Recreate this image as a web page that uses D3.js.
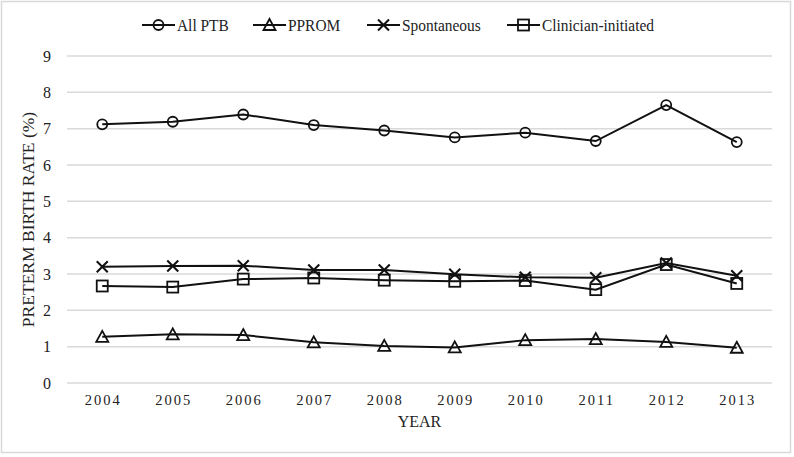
<!DOCTYPE html>
<html><head><meta charset="utf-8">
<script src="https://cdn.jsdelivr.net/npm/d3@7"></script>
<style>body{margin:0;background:#fff}svg{display:block}svg text{font-family:"Times New Roman","Liberation Serif",serif !important;fill:#222}</style>
</head><body><svg id="c" width="794" height="457" font-family="Times New Roman"></svg>
<script>
const years = ["2004","2005","2006","2007","2008","2009","2010","2011","2012","2013"];
const allPTB = [7.12,7.19,7.39,7.10,6.95,6.76,6.89,6.66,7.65,6.63];
const pprom = [1.27,1.34,1.32,1.12,1.02,0.98,1.18,1.21,1.13,0.97];
const spontaneous = [3.20,3.22,3.23,3.11,3.11,2.99,2.91,2.90,3.30,2.95];
const clinician = [2.67,2.64,2.86,2.89,2.83,2.80,2.82,2.57,3.26,2.74];
const seriesNames = ["All PTB","PPROM","Spontaneous","Clinician-initiated"];
const markers = ["circle","triangle","cross","square"];
const yTicks = [0,1,2,3,4,5,6,7,8,9];

const svg = d3.select("#c");
svg.append("rect").attr("x",1.5).attr("y",1.5).attr("width",789).attr("height",451)
  .attr("fill","#fff").attr("stroke","#d9d9d9").attr("stroke-width",1.5);

const L=67,R=772,T=56,B=383;
const x = d3.scaleBand().domain(years).range([L,R]);
const xc = d => x(d)+x.bandwidth()/2;
const y = d3.scaleLinear().domain([0,9]).range([B,T]);

// grid
svg.append("g").selectAll("line").data(yTicks).join("line")
  .attr("x1",L).attr("x2",R).attr("y1",d=>y(d)).attr("y2",d=>y(d))
  .attr("stroke","#d9d9d9").attr("stroke-width",1.5);

// y axis labels
const ya = svg.append("g").attr("transform",`translate(${L-13},0)`)
  .call(d3.axisLeft(y).tickValues(yTicks).tickSize(0).tickFormat(d3.format("d")));
ya.select(".domain").remove();
ya.attr("font-family","Times New Roman");
ya.selectAll("text").attr("font-size",16).attr("fill","#222");

// x axis labels
const xa = svg.append("g").attr("transform",`translate(1,${B+9})`)
  .call(d3.axisBottom(x).tickSize(0));
xa.select(".domain").remove();
xa.attr("font-family","Times New Roman");
xa.selectAll("text").attr("font-size",14.5).attr("fill","#222")
  .attr("letter-spacing","2px").attr("dy","0.71em");

svg.append("text").attr("x",(L+R)/2).attr("y",427).attr("text-anchor","middle")
  .attr("font-size",16).text("YEAR");
svg.append("text").attr("transform",`translate(34,${(T+B)/2}) rotate(-90)`).attr("text-anchor","middle")
  .attr("font-size",17.5).text("PRETERM BIRTH RATE (%)");

const data = [allPTB,pprom,spontaneous,clinician];
const line = d3.line().x((d,i)=>xc(years[i])).y(d=>y(d));

function drawMarker(g,type,cx,cy){
  const s = "#111", w=1.8;
  if(type==="circle") g.append("circle").attr("cx",cx).attr("cy",cy).attr("r",5).attr("fill","none").attr("stroke",s).attr("stroke-width",w);
  else if(type==="square") g.append("rect").attr("x",cx-5.5).attr("y",cy-5.5).attr("width",11).attr("height",11).attr("fill","none").attr("stroke",s).attr("stroke-width",w);
  else if(type==="triangle") g.append("path").attr("d",`M${cx},${cy-6}L${cx+6},${cy+5}L${cx-6},${cy+5}Z`).attr("fill","none").attr("stroke",s).attr("stroke-width",w);
  else if(type==="cross") g.append("path").attr("d",`M${cx-5.5},${cy-5.5}L${cx+5.5},${cy+5.5}M${cx-5.5},${cy+5.5}L${cx+5.5},${cy-5.5}`).attr("fill","none").attr("stroke",s).attr("stroke-width",w+0.3);
}

data.forEach((vals,k)=>{
  const g = svg.append("g");
  g.append("path").attr("d",line(vals)).attr("fill","none").attr("stroke","#111").attr("stroke-width",2);
  vals.forEach((v,i)=>drawMarker(g,markers[k],xc(years[i]),y(v)));
});

// legend
const legX = [142,253,367,507];
const ly = 25;
seriesNames.forEach((n,k)=>{
  const g = svg.append("g");
  g.append("line").attr("x1",legX[k]).attr("x2",legX[k]+33).attr("y1",ly).attr("y2",ly).attr("stroke","#111").attr("stroke-width",2);
  drawMarker(g,markers[k],legX[k]+16.5,ly);
  g.append("text").attr("transform",`translate(${legX[k]+35},${ly+6}) scale(0.88,1)`).attr("font-size",17.5).text(n);
});
</script></body></html>
